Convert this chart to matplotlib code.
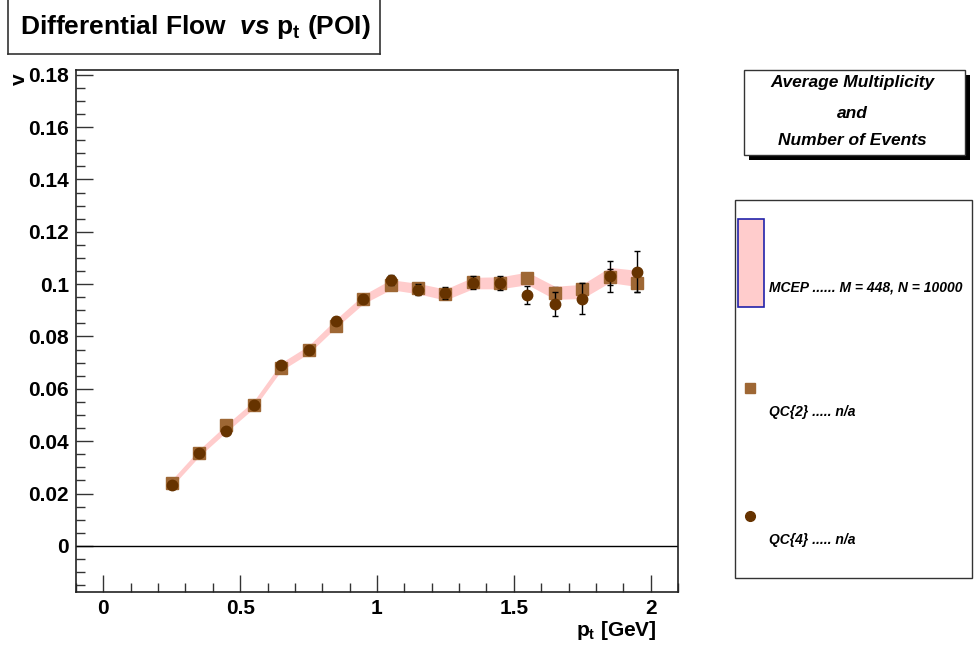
import matplotlib
matplotlib.use("Agg")
import matplotlib.pyplot as plt
from matplotlib.patches import Rectangle
from matplotlib.lines import Line2D
from matplotlib.ticker import MultipleLocator
import numpy as np

# pt bin centres
pt = [0.25, 0.35, 0.45, 0.55, 0.65, 0.75, 0.85, 0.95, 1.05,
      1.15, 1.25, 1.35, 1.45, 1.55, 1.65, 1.75, 1.85, 1.95]

mcep = [0.0240, 0.0355, 0.0450, 0.0540, 0.0685, 0.0750, 0.0850, 0.0942, 0.0998,
        0.0983, 0.0960, 0.1004, 0.1005, 0.1022, 0.0967, 0.0972, 0.1035, 0.1022]
mcep_err = [0.0013, 0.0013, 0.0014, 0.0014, 0.0015, 0.0015, 0.0016, 0.0017, 0.0019,
            0.0020, 0.0021, 0.0022, 0.0023, 0.0024, 0.0025, 0.0027, 0.0029, 0.0031]

qc2 = [0.0240, 0.0355, 0.0462, 0.0540, 0.0680, 0.0750, 0.0842, 0.0942, 0.0998,
       0.0987, 0.0964, 0.1010, 0.1006, 0.1024, 0.0968, 0.0981, 0.1028, 0.1005]
qc2_err = [0.0008, 0.0008, 0.0008, 0.0009, 0.0009, 0.0010, 0.0010, 0.0011, 0.0013,
           0.0014, 0.0015, 0.0016, 0.0018, 0.0020, 0.0022, 0.0025, 0.0030, 0.0035]

qc4 = [0.0232, 0.0355, 0.0440, 0.0540, 0.0690, 0.0750, 0.0860, 0.0942, 0.1016,
       0.0978, 0.0965, 0.1005, 0.1004, 0.0958, 0.0923, 0.0945, 0.1030, 0.1048]
qc4_err = [0.0010, 0.0009, 0.0010, 0.0010, 0.0011, 0.0012, 0.0013, 0.0015, 0.0020,
           0.0021, 0.0023, 0.0025, 0.0027, 0.0035, 0.0046, 0.0060, 0.0060, 0.0078]

W, H = 979, 647
FONT = "Liberation Sans"
plt.rcParams['font.family'] = [FONT, 'DejaVu Sans']
plt.rcParams['mathtext.fontset'] = 'custom'
plt.rcParams['mathtext.rm'] = 'Liberation Sans:bold'
plt.rcParams['mathtext.bf'] = 'Liberation Sans:bold'
plt.rcParams['mathtext.it'] = 'Liberation Sans:bold:italic'

PINK = '#ffcccc'
QC2_COL = '#9e6734'
QC4_COL = '#663300'


def px(x, y):
    # pixel coords (origin top-left) -> figure fraction
    return x / W, 1 - y / H


fig = plt.figure(figsize=(W / 100, H / 100), dpi=100)
ax = fig.add_axes([76 / W, 1 - 592 / H, (678 - 76) / W, (592 - 70) / H])

# MCEP band
lo = np.array(mcep) - np.array(mcep_err)
hi = np.array(mcep) + np.array(mcep_err)
ax.fill_between(pt, lo, hi, color=PINK, lw=0, zorder=1)

ax.axhline(0, color='black', lw=1, zorder=2)

ax.errorbar(pt, qc2, yerr=qc2_err, fmt='s', color=QC2_COL, ms=8, mec=QC2_COL,
            ecolor='black', elinewidth=1, capsize=2.5, capthick=1, zorder=3)
ax.errorbar(pt, qc4, yerr=qc4_err, fmt='o', color=QC4_COL, ms=7.5, mec=QC4_COL,
            ecolor='black', elinewidth=1, capsize=2.5, capthick=1, zorder=4)

ax.set_xlim(-0.1, 2.1)
ax.set_ylim(-0.0176, 0.1818)
ax.xaxis.set_minor_locator(MultipleLocator(0.1))
ax.yaxis.set_minor_locator(MultipleLocator(0.005))
ax.set_xticks([0, 0.5, 1, 1.5, 2])
ax.set_xticklabels(['0', '0.5', '1', '1.5', '2'])
yt = [0, 0.02, 0.04, 0.06, 0.08, 0.1, 0.12, 0.14, 0.16, 0.18]
ax.set_yticks(yt)
ax.set_yticklabels(['0', '0.02', '0.04', '0.06', '0.08', '0.1', '0.12', '0.14', '0.16', '0.18'])
ax.tick_params(which='both', direction='in', top=False, right=False, width=1, color='#333333')
ax.tick_params(which='major', length=12, labelsize=15, pad=5)
ax.tick_params(which='minor', length=6.5)
for lab in ax.get_xticklabels() + ax.get_yticklabels():
    lab.set_fontweight('bold')
for s in ax.spines.values():
    s.set_color('#222222')
    s.set_linewidth(1.2)

# axis titles
fig.text(*px(657, 630), r"p$_\mathbf{t}$ [GeV]", ha='right', va='center',
         fontsize=15, fontweight='bold')
fig.text(*px(19, 79), "v", rotation=90, ha='center', va='center',
         fontsize=15, fontweight='bold')

# title box
for xs, ys in [((8, 8), (0, 54)), ((8, 380), (54, 54)), ((380, 380), (0, 54))]:
    fig.add_artist(Line2D([x / W for x in xs], [1 - y / H for y in ys],
                          color='#333333', lw=1.2))
fig.text(*px(20, 27), r"Differential Flow  $\mathit{vs}$ p$_\mathbf{t}$ (POI)",
         ha='left', va='center', fontsize=19, fontweight='bold')

# info box with shadow
fig.add_artist(Rectangle(px(749, 160), 221 / W, 85 / H, transform=fig.transFigure,
                         facecolor='black', edgecolor='black', lw=0))
fig.add_artist(Rectangle(px(744, 155), 221 / W, 85 / H, transform=fig.transFigure,
                         facecolor='white', edgecolor='#333333', lw=1))
for txt, y in [("Average Multiplicity", 83), ("and", 113), ("Number of Events", 141)]:
    fig.text(*px(852, y), txt, ha='center', va='center', fontsize=12.5,
             fontweight='bold', fontstyle='italic')

# legend box
fig.add_artist(Rectangle(px(735, 578), 237 / W, 378 / H, transform=fig.transFigure,
                         facecolor='white', edgecolor='#333333', lw=1))
fig.add_artist(Rectangle(px(738, 307), 26 / W, 88 / H, transform=fig.transFigure,
                         facecolor=PINK, edgecolor='#2222aa', lw=1.2))
fig.add_artist(Line2D([750 / W], [1 - 388 / H], marker='s', ms=7, color=QC2_COL, lw=0))
fig.add_artist(Line2D([750 / W], [1 - 516 / H], marker='o', ms=7, color=QC4_COL, lw=0))
for txt, y in [("MCEP ...... M = 448, N = 10000", 287),
               ("QC{2} ..... n/a", 412),
               ("QC{4} ..... n/a", 540)]:
    fig.text(*px(769, y), txt, ha='left', va='center', fontsize=10,
             fontweight='bold', fontstyle='italic')

fig.savefig('out.png', dpi=100)
